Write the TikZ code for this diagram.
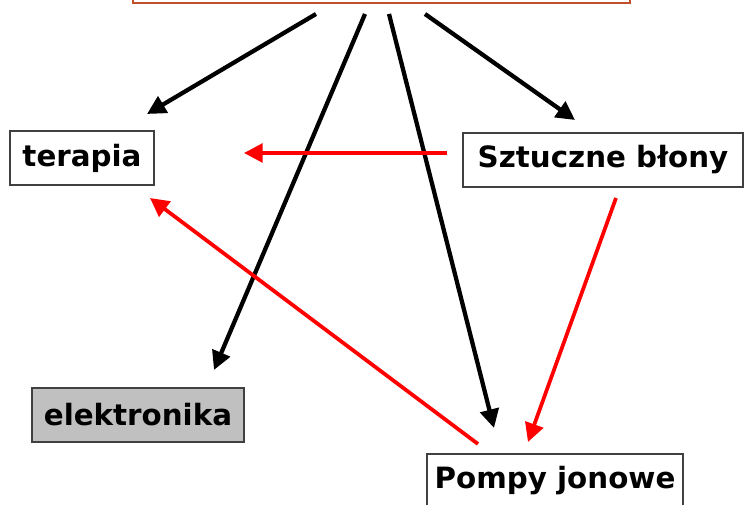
\documentclass[tikz,border=0pt]{standalone}
\usepackage{fontspec}
\setmainfont{DejaVu Sans}
\usetikzlibrary{arrows.meta}

\definecolor{ramka}{RGB}{192,80,42}
\definecolor{szary}{RGB}{192,192,192}

\tikzset{
  pole/.style={draw=black!75,line width=0.8pt,rectangle,font=\bfseries\fontsize{22}{25}\selectfont,inner sep=0pt,minimum height=40.5pt},
  czarna/.style={line width=3.2pt,-{Triangle[length=14pt,width=14pt]}},
  czerwona/.style={red,line width=2.8pt,-{Triangle[length=14pt,width=14pt]}}
}

\begin{document}
\begin{tikzpicture}[x=0.75pt,y=-0.75pt]
  \useasboundingbox (0,0) rectangle (744,505);
  \begin{scope}
    \clip (0,0) rectangle (744,505);
    \node[draw=ramka,line width=1pt,minimum width=372.75pt,minimum height=45pt] (gora) at (381.5,-27) {};
    \node[pole,minimum width=108pt] (terapia) at (82,158) {terapia};
    \node[pole,minimum width=210pt] (blony) at (603,160) {Sztuczne błony};
    \node[pole,fill=szary,minimum width=159pt] (elektr) at (138,415) {elektronika};
    \node[pole,minimum width=192pt] (pompy) at (555,481) {Pompy jonowe};
  \end{scope}

  % poczatki i konce strzalek
  \coordinate (g1) at (316,14);
  \coordinate (g2) at (365,14);
  \coordinate (g3) at (389,14);
  \coordinate (g4) at (425,14);
  \coordinate (t1) at (147,114);
  \coordinate (e1) at (214,370);
  \coordinate (p1) at (494,428);
  \coordinate (b1) at (575,120);
  \coordinate (b2) at (447,153);
  \coordinate (t2) at (244,153);
  \coordinate (b3) at (616,198);
  \coordinate (p2) at (528,442);
  \coordinate (p3) at (478,444);
  \coordinate (t3) at (150,198);

  \draw[czarna] (g1) -- (t1);
  \draw[czarna] (g2) -- (e1);
  \draw[czarna] (g3) -- (p1);
  \draw[czarna] (g4) -- (b1);
  \draw[czerwona] (b2) -- (t2);
  \draw[czerwona] (b3) -- (p2);
  \draw[czerwona] (p3) -- (t3);
\end{tikzpicture}
\end{document}
